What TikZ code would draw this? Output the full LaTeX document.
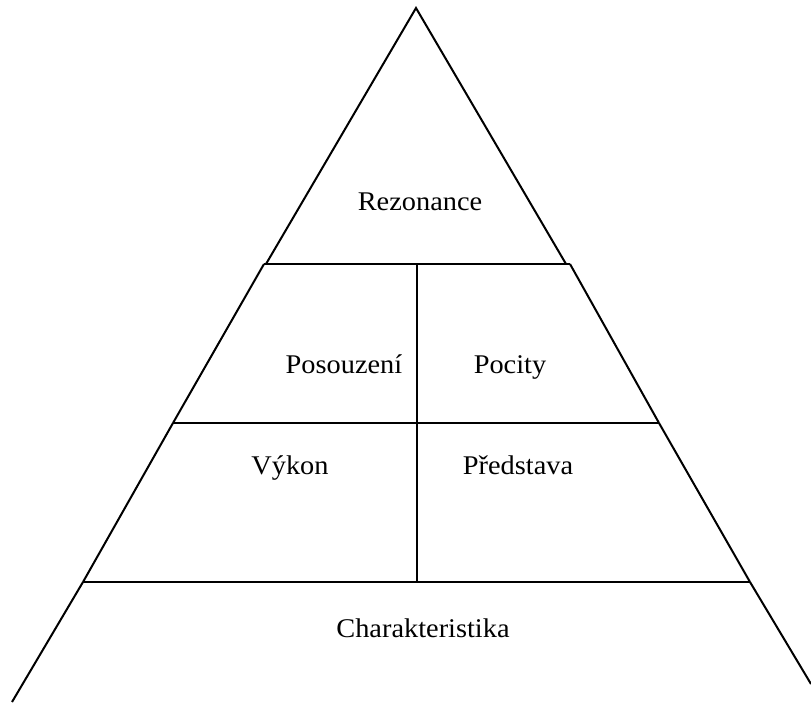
\documentclass[tikz,border=0pt]{standalone}
\usepackage{fontspec}
\setmainfont{Liberation Serif}
\usetikzlibrary{positioning}

\begin{document}
\begin{tikzpicture}[
  x=1pt,y=-1pt,
  edge/.style={line width=2pt},
  lbl/.style={anchor=base,inner sep=0pt,font=\fontsize{27}{27}\selectfont,xscale=1.05,transform shape}
]
\useasboundingbox (0,0) rectangle (811,702);
% corners of the pyramid
\coordinate (apex) at (416,8);
\coordinate (t1l) at (266,264); \coordinate (t1r) at (566,264);
\coordinate (t2l) at (264,264); \coordinate (t2r) at (570,264);
\coordinate (b2l) at (173,423); \coordinate (b2r) at (659,423);
\coordinate (b3l) at (83,582);  \coordinate (b3r) at (750,582);
\coordinate (b4l) at (12,702);  \coordinate (b4r) at (811,684);
\coordinate (vtop) at (417,264); \coordinate (vbot) at (417,582);
% top
\draw[edge] (t1l) -- (apex) -- (t1r);
\draw[edge] (t2l) -- (t2r);
% middle
\draw[edge] (t2l) -- (b2l);
\draw[edge] (t2r) -- (b2r);
\draw[edge] (b2l) -- (b2r);
\draw[edge] (b2l) -- (b3l);
\draw[edge] (b2r) -- (b3r);
\draw[edge] (b3l) -- (b3r);
\draw[edge] (vtop) -- (vbot);
% base
\draw[edge] (b3l) -- (b4l);
\draw[edge] (b3r) -- (b4r);
% labels
\node[lbl] (rez) at (420,210) {Rezonance};
\node[lbl] (pos) at (344,373) {Posouzení};
\node[lbl] (poc) at (510,373) {Pocity};
\node[lbl] (vyk) at (290,474) {Výkon};
\node[lbl] (pred) at (518,474) {Představa};
\node[lbl] (char) at (423,637) {Charakteristika};
\end{tikzpicture}
\end{document}
